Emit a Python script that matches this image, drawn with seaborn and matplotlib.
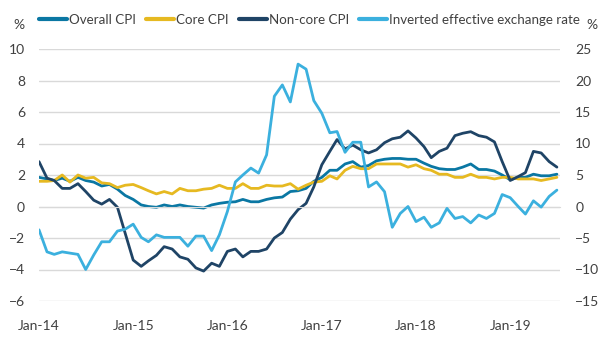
import pandas as pd
import numpy as np
import seaborn as sns
import matplotlib.pyplot as plt
from matplotlib.lines import Line2D

# monthly data, Jan-14 to Jul-19
months = pd.date_range('2014-01-01', periods=67, freq='MS')

overall_cpi = [1.85, 1.75, 1.65, 1.8, 1.6, 1.85, 1.65, 1.55, 1.3, 1.4, 1.1, 0.7,
               0.45, 0.1, 0.0, -0.05, 0.1, 0.0, 0.1, 0.0, -0.05, -0.1, 0.1, 0.2,
               0.27, 0.3, 0.45, 0.3, 0.3, 0.45, 0.55, 0.6, 0.95, 1.0, 1.15, 1.6,
               1.85, 2.3, 2.3, 2.7, 2.85, 2.5, 2.6, 2.9, 3.0, 3.05, 3.05, 3.0,
               3.0, 2.75, 2.55, 2.4, 2.35, 2.35, 2.5, 2.7, 2.35, 2.35, 2.25, 2.0,
               1.7, 1.85, 1.85, 2.05, 1.95, 1.95, 2.05]
core_cpi = [1.6, 1.6, 1.65, 2.0, 1.55, 2.0, 1.8, 1.85, 1.5, 1.45, 1.2, 1.35,
            1.4, 1.2, 1.0, 0.8, 0.95, 0.8, 1.15, 1.0, 1.0, 1.1, 1.15, 1.35,
            1.15, 1.15, 1.45, 1.15, 1.15, 1.35, 1.3, 1.3, 1.45, 1.1, 1.35, 1.55,
            1.6, 1.95, 1.75, 2.3, 2.55, 2.4, 2.4, 2.7, 2.7, 2.7, 2.7, 2.5,
            2.65, 2.4, 2.3, 2.05, 2.05, 1.85, 1.85, 2.05, 1.85, 1.85, 1.75, 1.85,
            1.85, 1.75, 1.75, 1.75, 1.65, 1.75, 1.85]
noncore_cpi = [2.85, 1.8, 1.65, 1.15, 1.15, 1.45, 0.95, 0.4, 0.15, 0.45, -0.05, -1.7,
               -3.4, -3.8, -3.45, -3.1, -2.55, -2.7, -3.2, -3.35, -3.9, -4.1, -3.6, -3.8,
               -2.85, -2.7, -3.2, -2.85, -2.85, -2.7, -2.0, -1.65, -0.8, -0.2, 0.2, 1.25,
               2.65, 3.5, 4.25, 3.65, 3.9, 3.6, 3.4, 3.6, 4.05, 4.3, 4.4, 4.8,
               4.35, 3.8, 3.1, 3.5, 3.7, 4.5, 4.65, 4.75, 4.5, 4.4, 4.1, 2.85,
               1.65, 1.9, 2.15, 3.5, 3.4, 2.85, 2.5]
# right axis
inv_eer = [-3.7, -7.2, -7.6, -7.2, -7.4, -7.6, -10.0, -7.7, -5.6, -5.6, -3.9, -3.6,
           -2.8, -4.9, -5.6, -4.5, -4.9, -4.9, -4.9, -6.3, -4.7, -4.7, -7.0, -4.5,
           -0.8, 3.9, 5.0, 6.1, 5.3, 8.2, 17.5, 19.3, 16.6, 22.6, 21.8, 16.8,
           14.8, 11.7, 11.9, 8.6, 10.2, 10.2, 3.1, 3.9, 2.35, -3.3, -1.1, 0.0,
           -2.4, -1.7, -3.3, -2.6, -0.3, -1.9, -1.6, -2.6, -1.35, -1.9, -1.1, 1.9,
           1.4, 0.0, -1.2, 0.9, -0.1, 1.6, 2.6]

series_names = ['Overall CPI', 'Core CPI', 'Non-core CPI', 'Inverted effective exchange rate']
colors = ['#0a77a3', '#e6b921', '#1f4466', '#3bb0de']
year_ticks = pd.to_datetime(['2014-01-01', '2015-01-01', '2016-01-01', '2017-01-01',
                             '2018-01-01', '2019-01-01'])
year_labels = ['Jan-14', 'Jan-15', 'Jan-16', 'Jan-17', 'Jan-18', 'Jan-19']

df = pd.DataFrame({'month': months, 'Overall CPI': overall_cpi,
                   'Core CPI': core_cpi, 'Non-core CPI': noncore_cpi})
long_df = df.melt(id_vars='month', var_name='series', value_name='value')
eer_df = pd.DataFrame({'month': months, 'value': inv_eer})

sns.set_style('white')
plt.rcParams['font.family'] = ['Lato', 'DejaVu Sans']
txt = '#404040'
grid_c = '#d9d9d9'
lw = 2.0
fs = 10

fig = plt.figure(figsize=(6.05, 3.5), dpi=100)
ax = fig.add_axes([39 / 605, 1 - 301 / 350, 521 / 605, 252 / 350])

sns.lineplot(data=long_df, x='month', y='value', hue='series',
             hue_order=series_names[:3], palette=colors[:3], linewidth=lw,
             legend=False, ax=ax)
ax2 = ax.twinx()
sns.lineplot(data=eer_df, x='month', y='value', color=colors[3], linewidth=lw,
             legend=False, ax=ax2)

ax.set_ylim(-6, 10)
ax.set_yticks(np.arange(-6, 11, 2))
ax2.set_ylim(-15, 25)
ax2.set_yticks(np.arange(-15, 26, 5))
ax.set_xlim(pd.Timestamp('2014-01-01'), pd.Timestamp('2019-07-13'))

ax.grid(axis='y', color=grid_c, linewidth=1)
ax.grid(axis='x', visible=False)
ax2.grid(False)
for a in (ax, ax2):
    for s in a.spines.values():
        s.set_visible(False)
    a.set_xlabel('')
    a.set_ylabel('')

ax.tick_params(axis='y', length=0, labelsize=fs, labelcolor=txt, pad=10)
ax2.tick_params(axis='y', length=0, labelsize=fs, labelcolor=txt, pad=11)

# x axis line sits at zero, labels at the bottom
ax.spines['bottom'].set_visible(True)
ax.spines['bottom'].set_position(('data', 0))
ax.spines['bottom'].set_color(grid_c)
ax.set_xticks(year_ticks)
ax.tick_params(axis='x', direction='out', length=5, color=grid_c, labelbottom=False)
sec = ax.secondary_xaxis('bottom')
sec.set_xticks(year_ticks, labels=year_labels)
sec.tick_params(length=0, labelsize=fs, labelcolor=txt, pad=14)
sec.spines['bottom'].set_visible(False)

fig.text(13 / 605, 1 - 25 / 350, '%', fontsize=fs, color=txt, ha='left', va='center')
fig.text(586 / 605, 1 - 25 / 350, '%', fontsize=fs, color=txt, ha='left', va='center')

handles = [Line2D([], [], color=c, linewidth=3) for c in colors]
fig.legend(handles, series_names, loc='center left', bbox_to_anchor=(39 / 605, 1 - 20 / 350),
           ncol=4, frameon=False, fontsize=9.6, labelcolor=txt, handlelength=2.1,
           handletextpad=0.15, columnspacing=0.75, borderpad=0, borderaxespad=0)

fig.savefig('out.png', dpi=100)
